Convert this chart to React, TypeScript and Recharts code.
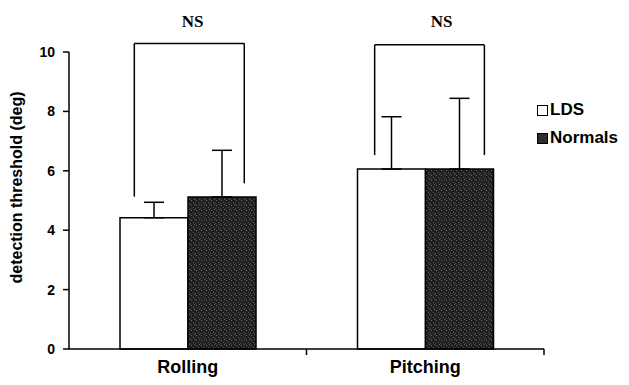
import { ComposedChart, Bar, XAxis, YAxis, ErrorBar, ReferenceLine, ReferenceDot, Legend } from "recharts"

const categories = ["Rolling", "Pitching"]
const ldsMean = [4.42, 6.06]
const ldsErr = [0.52, 1.76]
const normalsMean = [5.12, 6.06]
const normalsErr = [1.57, 2.38]
const yTicks = [0, 2, 4, 6, 8, 10]

// significance brackets, x on a 0..2 scale spanning both categories
const bracketLeftX = [0.275, 1.287]
const bracketRightX = [0.738, 1.749]
const bracketTopY = [10.29, 10.24]
const bracketLeftBottom = [5.13, 6.53]
const bracketRightBottom = [5.58, 6.53]
const nsX = [0.52, 1.569]
const nsY = [11.05, 11.05]
const nsLabels = ["NS", "NS"]

const seriesNames = { lds: "LDS", normals: "Normals" }
const seriesFill: Record<string, string> = { lds: "#ffffff", normals: "url(#speckle)" }
const swatchFill: Record<string, string> = { lds: "#ffffff", normals: "#2e2e2e" }

const data = categories.map((name, i) => ({
    name,
    pos: i + 0.5,
    lds: ldsMean[i],
    ldsErr: [0, ldsErr[i]],
    normals: normalsMean[i],
    normalsErr: [0, normalsErr[i]],
}))

const sans = "'Liberation Sans', Arial, sans-serif"

const CategoryTick = (props: any) => {
    const { x, y, payload } = props
    const half = payload?.offset ?? 0
    return (
        <g>
            <line x1={x + half} x2={x + half} y1={y - 8} y2={y - 2} stroke="#000" strokeWidth={1.5} />
            <text x={x} y={y + 16} textAnchor="middle" fontFamily={sans} fontWeight={700} fontSize={18} fill="#000">
                {payload.value}
            </text>
        </g>
    )
}

const YTitle = (props: any) => {
    const vb = props.viewBox || { x: 0, y: 0, width: 0, height: 0 }
    const cx = vb.x + 16
    const cy = vb.y + vb.height / 2 - 13
    return (
        <text
            x={cx}
            y={cy}
            transform={`rotate(-90, ${cx}, ${cy})`}
            textAnchor="middle"
            dominantBaseline="central"
            fontFamily={sans}
            fontWeight={700}
            fontSize={16}
            fill="#000"
        >
            detection threshold (deg)
        </text>
    )
}

const renderLegend = (props: any) => {
    const items = props.payload || []
    return (
        <div style={{ fontFamily: sans, fontWeight: 700, fontSize: 17, color: "#000" }}>
            {items.map((e: any) => (
                <div key={e.dataKey} style={{ display: "flex", alignItems: "center", height: 28 }}>
                    <span
                        style={{
                            display: "inline-block",
                            width: 9,
                            height: 9,
                            border: "1.5px solid #000",
                            background: swatchFill[e.dataKey],
                            marginRight: 2,
                        }}
                    />
                    <span>{e.value}</span>
                </div>
            ))}
        </div>
    )
}

export default function App() {
    return (
        <div style={{ position: "absolute", left: 0, top: 0, background: "#fff" }}>
            <ComposedChart
                width={629}
                height={385}
                data={data}
                margin={{ top: 52, right: 85, left: 0, bottom: 0 }}
                barGap={0}
                style={{ fontFamily: sans }}
            >
                <defs>
                    <pattern id="speckle" width="5" height="5" patternUnits="userSpaceOnUse">
                        <rect width="5" height="5" fill="#1f1f1f" />
                        <rect x="1" y="0" width="1" height="1" fill="#6a6a6a" />
                        <rect x="3" y="2" width="1" height="1" fill="#585858" />
                        <rect x="0" y="3" width="1" height="1" fill="#4a4a4a" />
                        <rect x="4" y="4" width="1" height="1" fill="#626262" />
                    </pattern>
                </defs>
                <XAxis
                    dataKey="name"
                    height={36}
                    tickLine={false}
                    tickSize={6}
                    tickMargin={2}
                    axisLine={{ stroke: "#000", strokeWidth: 1.5 }}
                    tick={<CategoryTick />}
                />
                <XAxis xAxisId="pos" dataKey="pos" type="number" domain={[0, 2]} ticks={[0, 1, 2]} allowDataOverflow hide />
                <YAxis
                    domain={[0, 10]}
                    ticks={yTicks}
                    width={69}
                    tickSize={6}
                    tickMargin={8}
                    axisLine={{ stroke: "#000", strokeWidth: 1.5 }}
                    tickLine={{ stroke: "#000", strokeWidth: 1.5 }}
                    tick={{ fill: "#000", fontSize: 14, fontWeight: 700, fontFamily: sans }}
                    label={<YTitle />}
                />
                <Legend
                    verticalAlign="middle"
                    align="center"
                    layout="vertical"
                    wrapperStyle={{ left: 537, top: 96, width: 92 }}
                    content={renderLegend}
                />
                <Bar dataKey="lds" name={seriesNames.lds} fill={seriesFill.lds} stroke="#000" strokeWidth={1.5} barSize={68} isAnimationActive={false}>
                    <ErrorBar dataKey="ldsErr" direction="y" width={10} stroke="#000" strokeWidth={1.5} />
                </Bar>
                <Bar dataKey="normals" name={seriesNames.normals} fill={seriesFill.normals} stroke="#000" strokeWidth={1.5} barSize={68} isAnimationActive={false}>
                    <ErrorBar dataKey="normalsErr" direction="y" width={10} stroke="#000" strokeWidth={1.5} />
                </Bar>
                {categories.map((c, i) => (
                    <ReferenceLine
                        key={c + "-l"}
                        xAxisId="pos"
                        ifOverflow="visible"
                        stroke="#000"
                        strokeWidth={1.5}
                        segment={[
                            { x: bracketLeftX[i], y: bracketLeftBottom[i] },
                            { x: bracketLeftX[i], y: bracketTopY[i] },
                        ]}
                    />
                ))}
                {categories.map((c, i) => (
                    <ReferenceLine
                        key={c + "-t"}
                        xAxisId="pos"
                        ifOverflow="visible"
                        stroke="#000"
                        strokeWidth={1.5}
                        segment={[
                            { x: bracketLeftX[i], y: bracketTopY[i] },
                            { x: bracketRightX[i], y: bracketTopY[i] },
                        ]}
                    />
                ))}
                {categories.map((c, i) => (
                    <ReferenceLine
                        key={c + "-r"}
                        xAxisId="pos"
                        ifOverflow="visible"
                        stroke="#000"
                        strokeWidth={1.5}
                        segment={[
                            { x: bracketRightX[i], y: bracketTopY[i] },
                            { x: bracketRightX[i], y: bracketRightBottom[i] },
                        ]}
                    />
                ))}
                {categories.map((c, i) => (
                    <ReferenceDot
                        key={c + "-ns"}
                        xAxisId="pos"
                        x={nsX[i]}
                        y={nsY[i]}
                        r={0}
                        stroke="none"
                        fill="none"
                        ifOverflow="visible"
                        label={{
                            value: nsLabels[i],
                            position: "center",
                            fill: "#000",
                            fontSize: 17,
                            fontWeight: 700,
                            fontFamily: "'Liberation Serif', 'Times New Roman', serif",
                        }}
                    />
                ))}
            </ComposedChart>
        </div>
    )
}
